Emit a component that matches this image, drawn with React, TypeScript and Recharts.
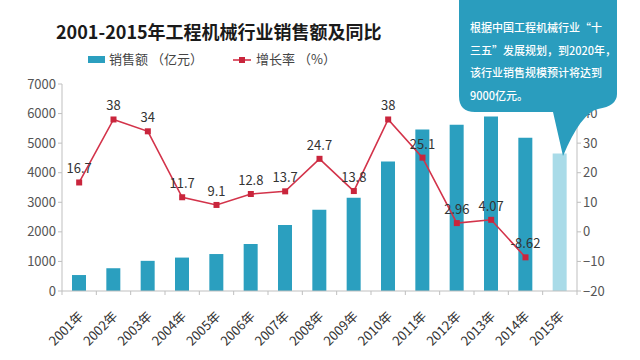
import { Bar, Cell, ComposedChart, LabelList, Line, XAxis, YAxis } from 'recharts';

const years = ['2001年', '2002年', '2003年', '2004年', '2005年', '2006年', '2007年', '2008年', '2009年', '2010年', '2011年', '2012年', '2013年', '2014年', '2015年'];
const sales = [540, 770, 1020, 1130, 1250, 1590, 2230, 2750, 3150, 4380, 5460, 5620, 5900, 5180, 4650];
const growth: (number | null)[] = [16.7, 38, 34, 11.7, 9.1, 12.8, 13.7, 24.7, 13.8, 38, 25.1, 2.96, 4.07, -8.62, null];
const leftTicks = [0, 1000, 2000, 3000, 4000, 5000, 6000, 7000];
const rightTicks = [-20, -10, 0, 10, 20, 30, 40];
const calloutLines = ['根据中国工程机械行业“十', '三五”发展规划，到2020年，', '该行业销售规模预计将达到', '9000亿元。'];

const data = years.map((year, i) => ({ year, sales: sales[i], growth: growth[i] }));

const FONT = '"Noto Sans CJK SC", "Noto Sans", sans-serif';
const BAR = '#2b9fbf';
const BAR_LIGHT = '#a9dbe8';
const RED = '#d3334a';
const AXIS = '#bfbfbf';

const WIDTH = 640;
const LEFT_W = 62;
const RIGHT_W = 63;
const HALF_BAND = (WIDTH - LEFT_W - RIGHT_W) / years.length / 2;

function SquareDot(props: any) {
    const { cx, cy, value } = props;
    if (value == null || cx == null || cy == null) return null;
    return <rect x={cx - 3} y={cy - 3} width={6} height={6} fill="#c9253c" />;
}

function YearTick(props: any) {
    const { x, y, payload, index } = props;
    const isLast = index === years.length - 1;
    return (
        <g>
            <line x1={x - HALF_BAND} y1={y - 8} x2={x - HALF_BAND} y2={y - 4} stroke={AXIS} />
            {isLast && <line x1={x + HALF_BAND} y1={y - 8} x2={x + HALF_BAND} y2={y - 4} stroke={AXIS} />}
            <text
                x={x + 5}
                y={y + 18}
                transform={`rotate(-45, ${x + 5}, ${y + 18})`}
                textAnchor="end"
                fontSize={13}
                fill="#333"
                fontFamily={FONT}
            >
                {payload.value}
            </text>
        </g>
    );
}

export default function App() {
    return (
        <div style={{ position: 'absolute', left: 0, top: 0, width: 640, height: 360, background: '#fff' }}>
            <ComposedChart width={WIDTH} height={360} data={data} margin={{ top: 84, right: 0, left: 0, bottom: 0 }}>
                <XAxis
                    dataKey="year"
                    height={69}
                    axisLine={{ stroke: AXIS }}
                    tickLine={false}
                    interval={0}
                    tick={<YearTick />}
                />
                <YAxis
                    yAxisId="left"
                    width={LEFT_W}
                    domain={[0, 7000]}
                    ticks={leftTicks}
                    axisLine={{ stroke: AXIS }}
                    tickLine={{ stroke: AXIS }}
                    tickSize={4}
                    tick={{ fill: '#555', fontSize: 13, fontFamily: FONT }}
                />
                <YAxis
                    yAxisId="right"
                    orientation="right"
                    width={RIGHT_W}
                    domain={[-20, 50]}
                    ticks={rightTicks}
                    axisLine={{ stroke: AXIS }}
                    tickLine={{ stroke: AXIS }}
                    tickSize={4}
                    tick={{ fill: '#555', fontSize: 13, fontFamily: FONT }}
                    tickFormatter={(v: number) => (v < 0 ? `\u2212${Math.abs(v)}` : `${v}`)}
                />
                <Bar dataKey="sales" yAxisId="left" barSize={14} isAnimationActive={false}>
                    {data.map((d, i) => (
                        <Cell key={d.year} fill={i === data.length - 1 ? BAR_LIGHT : BAR} />
                    ))}
                </Bar>
                <Line
                    dataKey="growth"
                    yAxisId="right"
                    type="linear"
                    stroke={RED}
                    strokeWidth={1.6}
                    dot={<SquareDot />}
                    activeDot={false}
                    connectNulls={false}
                    isAnimationActive={false}
                >
                    <LabelList
                        dataKey="growth"
                        position="top"
                        offset={9}
                        style={{ fill: '#333', fontSize: 13, fontFamily: FONT }}
                    />
                </Line>
            </ComposedChart>

            <svg width={640} height={360} style={{ position: 'absolute', left: 0, top: 0, pointerEvents: 'none' }}>
                <text x={56} y={39} fontSize={18} fontWeight="bold" fill="#1a1a1a" fontFamily={FONT}>
                    2001-2015年工程机械行业销售额及同比
                </text>

                <rect x={88} y={56} width={17} height={7} fill={BAR} />
                <text x={109} y={64} fontSize={13} fill="#444" fontFamily={FONT}>
                    销售额 （亿元）
                </text>
                <line x1={233} y1={60} x2={251} y2={60} stroke={RED} strokeWidth={1.6} />
                <rect x={239} y={57} width={6} height={6} fill="#c9253c" />
                <text x={256} y={64} fontSize={13} fill="#444" fontFamily={FONT}>
                    增长率 （%）
                </text>

                <path
                    d="M459,0 L617,0 L617,94 Q617,106 598,109 Q581,113 563,156 L553,112 L475,112 Q459,112 459,96 Z"
                    fill="#2a9dbe"
                />
                {calloutLines.map((line, i) => (
                    <text key={i} x={470} y={32 + i * 22.5} fontSize={11} fill="#fff" fontFamily={FONT} fontWeight={500}>
                        {line}
                    </text>
                ))}
            </svg>
        </div>
    );
}
